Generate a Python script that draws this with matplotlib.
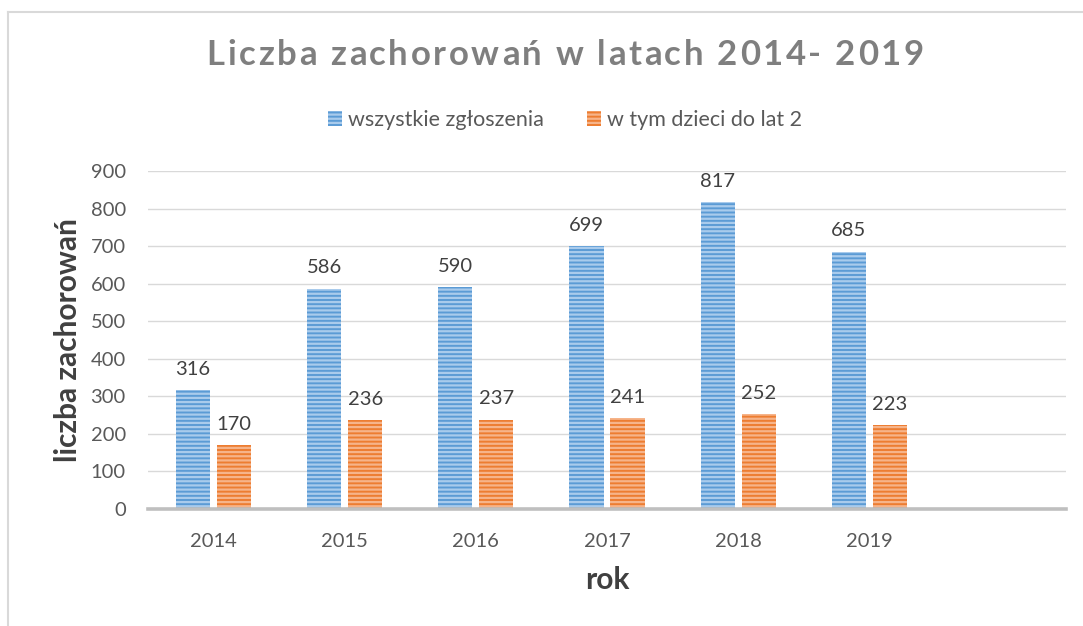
import matplotlib
matplotlib.use("Agg")
import matplotlib.pyplot as plt
import numpy as np
from matplotlib.lines import Line2D
from matplotlib.patches import Patch

years = ["2014", "2015", "2016", "2017", "2018", "2019"]
wszystkie = [316, 586, 590, 699, 817, 685]
dzieci = [170, 236, 237, 241, 252, 223]
title = "Liczba zachorowań w latach 2014- 2019"
series_names = ["wszystkie zgłoszenia", "w tym dzieci do lat 2"]

plt.rcParams['font.family'] = ['Lato', 'DejaVu Sans']
plt.rcParams['hatch.linewidth'] = 1.6

fig = plt.figure(figsize=(10.83, 6.26), dpi=100)
ax = fig.add_axes([148/1083, 1-509/626, 918/1083, 338/626])

blue, blue_l = "#5B9BD5", "#A9CBEC"
orange, orange_l = "#ED7D31", "#F6B48A"
x = np.arange(len(years))
w = 0.26
off = 0.156
b1 = ax.bar(x - off, wszystkie, w, color=blue, edgecolor=blue_l, hatch='----', linewidth=0)
b2 = ax.bar(x + off, dzieci, w, color=orange, edgecolor=orange_l, hatch='----', linewidth=0)
ax.bar_label(b1, padding=9, fontsize=14.5, color="#404040")
ax.bar_label(b2, padding=9, fontsize=14.5, color="#404040")

ax.set_xlim(-0.5, len(years) + 0.5)
ax.set_ylim(0, 900)
ax.set_yticks(range(0, 901, 100))
ax.set_xticks(x)
ax.set_xticklabels(years)
ax.tick_params(axis='y', length=0, pad=16, labelsize=14.5, labelcolor="#595959")
ax.tick_params(axis='x', length=0, pad=17, labelsize=14.5, labelcolor="#595959")
ax.grid(axis='y', color="#d9d9d9", linewidth=1)
ax.set_axisbelow(True)
for s in ["top", "right", "left"]:
    ax.spines[s].set_visible(False)
ax.spines["bottom"].set_color("#bfbfbf")
ax.spines["bottom"].set_linewidth(2.6)

ax.set_ylabel("liczba zachorowań", fontsize=21.5, fontweight='bold', color="#404040", labelpad=6)
ax.set_xlabel("rok", fontsize=21.5, fontweight='bold', color="#404040", labelpad=12)

handles = [Patch(facecolor=blue, edgecolor=blue_l, hatch='----', linewidth=0),
           Patch(facecolor=orange, edgecolor=orange_l, hatch='----', linewidth=0)]
fig.legend(handles, series_names, loc='center', bbox_to_anchor=(565/1083, 1-120/626),
           ncol=2, frameon=False, fontsize=15.5, labelcolor="#595959",
           handlelength=0.65, handleheight=0.65, handletextpad=0.3, columnspacing=2.0)

# title with letter spacing, drawn character by character
renderer = fig.canvas.get_renderer()
fsize = 25
tmp = fig.text(0, 0, "x", fontsize=fsize, fontweight='bold')
prop = tmp.get_fontproperties()
tmp.remove()
widths = []
for ch in title:
    wd, h, d = renderer.get_text_width_height_descent(ch, prop, ismath=False)
    widths.append(wd)
target = 717.0
extra = (target - sum(widths)) / (len(title) - 1)
xpos = 565 - target / 2
for ch, wd in zip(title, widths):
    fig.text(xpos / 1083, 1 - 55 / 626, ch, fontsize=fsize, fontweight='bold',
             color="#7f7f7f", ha='left', va='center')
    xpos += wd + extra

# chart area border
fig.add_artist(Line2D([8/1083, 8/1083], [0, 1-12/626], color="#d9d9d9", lw=1.5))
fig.add_artist(Line2D([8/1083, 1], [1-12/626, 1-12/626], color="#d9d9d9", lw=1.5))

fig.savefig("out.png", dpi=100)
